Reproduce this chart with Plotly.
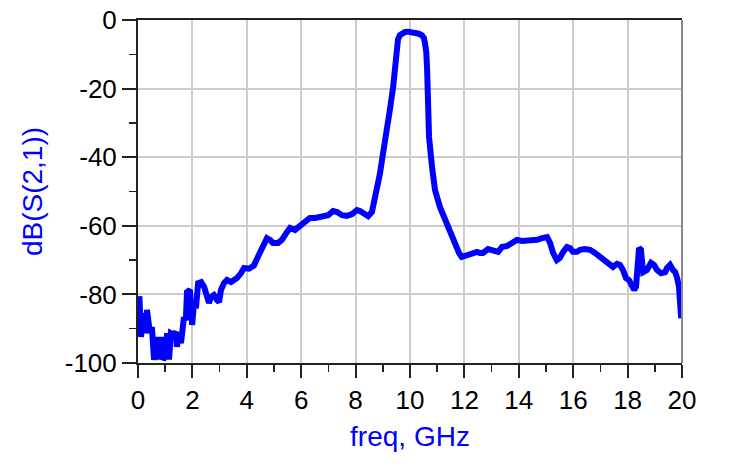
import plotly.graph_objects as go

freq_ghz = [0.05, 0.11, 0.22, 0.29, 0.33, 0.44, 0.51, 0.59, 0.70, 0.77, 0.85, 0.92, 1.03, 1.07, 1.14,
            1.21, 1.32, 1.40, 1.43, 1.51, 1.58, 1.62, 1.69, 1.76, 1.80, 1.91, 1.99, 2.06, 2.13, 2.21,
            2.32, 2.43, 2.54, 2.61, 2.68, 2.79, 2.90, 2.98, 3.05, 3.16, 3.27, 3.42, 3.53, 3.64, 3.79,
            3.90, 4.08, 4.26, 4.41, 4.56, 4.74, 4.85, 4.96, 5.15, 5.29, 5.48, 5.59, 5.77, 5.96, 6.14,
            6.32, 6.51, 6.69, 6.88, 6.99, 7.17, 7.32, 7.50, 7.68, 7.87, 8.05, 8.16, 8.27, 8.46, 8.60,
            8.68, 8.79, 8.90, 9.01, 9.15, 9.26, 9.38, 9.45, 9.50, 9.56, 9.63, 9.71, 9.82, 9.93, 10.05,
            10.18, 10.32, 10.44, 10.51, 10.55, 10.60,
            10.63, 10.66, 10.70, 10.81, 10.92, 11.10, 11.29, 11.47, 11.65, 11.80, 11.90, 12.10, 12.28,
            12.46, 12.57, 12.68, 12.87, 13.05, 13.24, 13.38, 13.57, 13.75, 13.93, 14.12, 14.30, 14.49,
            14.67, 14.85, 15.04, 15.15, 15.26, 15.40, 15.51, 15.63, 15.77, 15.88, 15.99, 16.14, 16.25,
            16.43, 16.62, 16.80, 16.99, 17.17, 17.35, 17.46, 17.61, 17.72, 17.83, 17.94, 18.05, 18.16,
            18.24, 18.31, 18.35, 18.42, 18.49, 18.53, 18.57, 18.71, 18.86, 18.97, 19.08, 19.23, 19.38,
            19.45, 19.56, 19.67, 19.75, 19.82, 19.89, 19.93, 19.97]

s21_db = [-80.5, -92.4, -85.4, -91.3, -84.5, -91.3, -89.5, -99.1, -92.4, -99.0, -92.4, -99.0, -98.0, -91.3, -99.0,
          -91.3, -91.8, -90.9, -95.3, -91.3, -94.2, -91.3, -86.6, -87.5, -79.3, -78.7, -88.9, -82.5, -84.0, -76.7,
          -76.4, -77.8, -80.8, -82.5, -80.8, -80.2, -81.6, -82.2, -78.7, -76.7, -75.8, -76.4, -75.8, -75.2, -73.8,
          -72.3, -72.5, -71.6, -69.0, -66.2, -63.6, -64.1, -65.0, -65.0, -64.1, -61.8, -60.6, -61.2, -59.8, -58.9,
          -57.7, -57.7, -57.4, -57.4, -56.9, -55.7, -56.0, -56.9, -57.1, -56.6, -55.4, -55.7, -56.3, -57.2, -56.0,
          -53.4, -49.8, -44.6, -38.8, -32.9, -26.2, -19.5, -12.5, -8.0, -5.6, -4.4, -3.8, -3.5, -3.4, -3.5,
          -3.7, -4.0, -4.5, -5.2, -6.7, -9.5,
          -14.6, -24.2, -34.1, -42.9, -49.6, -54.5, -58.3, -62.1, -65.0, -67.9, -69.1, -68.5, -67.9,
          -67.6, -67.9, -67.9, -66.8, -67.0, -67.6, -66.2, -65.9, -65.0, -64.1, -64.4, -64.4, -64.4,
          -64.1, -63.6, -63.3, -65.0, -67.9, -70.0, -69.4, -67.6, -66.2, -66.5, -67.6, -67.6, -67.0,
          -66.8, -67.0, -67.9, -69.1, -70.0, -71.4, -72.0, -71.1, -71.4, -72.9, -75.2, -75.8, -77.3,
          -78.7, -77.8, -72.0, -66.5, -67.0, -72.9, -73.5, -72.9, -70.8, -71.4, -72.9, -73.8, -73.5,
          -72.3, -71.4, -72.9, -73.5, -75.2, -77.8, -82.5, -87.0]

x_ticks = [0, 2, 4, 6, 8, 10, 12, 14, 16, 18, 20]
y_ticks = [0, -20, -40, -60, -80, -100]

FONT = "Liberation Sans, Arial, sans-serif"

fig = go.Figure()
fig.add_trace(go.Scatter(
    x=freq_ghz, y=s21_db, mode="lines",
    line=dict(color="#0000ff", width=6),
    showlegend=False, hoverinfo="skip",
))

fig.update_layout(
    width=744, height=469,
    margin=dict(l=138, r=62, t=20, b=106),
    paper_bgcolor="white", plot_bgcolor="white",
    font=dict(family=FONT, size=26, color="black"),
    xaxis=dict(
        range=[0, 20], tickvals=x_ticks, ticktext=[str(v) for v in x_ticks],
        showgrid=True, gridcolor="#cccccc", gridwidth=2,
        showline=True, linecolor="#222222", linewidth=2, mirror=True,
        ticks="outside", ticklen=13, tickwidth=2, tickcolor="#222222",
        minor=dict(dtick=1, tick0=0, ticks="outside", ticklen=7, tickwidth=1.5, tickcolor="#222222", showgrid=False),
        tickfont=dict(size=26, color="black", family=FONT),
        ticklabeloverflow="allow",
        title=dict(text="freq, GHz", font=dict(size=28, color="#0000ff", family=FONT), standoff=12),
        zeroline=False, automargin=False,
    ),
    yaxis=dict(
        range=[-100, 0], tickvals=y_ticks, ticktext=[str(v) for v in y_ticks],
        showgrid=True, gridcolor="#cccccc", gridwidth=2,
        showline=True, linecolor="#222222", linewidth=2,
        ticks="outside", ticklen=14, tickwidth=2, tickcolor="#222222",
        minor=dict(dtick=10, tick0=0, ticks="outside", ticklen=7, tickwidth=1.5, tickcolor="#222222", showgrid=False),
        tickfont=dict(size=26, color="black", family=FONT),
        ticklabeloverflow="allow",
        title=dict(text="dB(S(2,1))", font=dict(size=28, color="#0000ff", family=FONT), standoff=14),
        zeroline=False, automargin=False,
    ),
    shapes=[dict(type="line", xref="paper", yref="paper", x0=1, x1=1, y0=0, y1=1,
                 line=dict(color="#888888", width=2), layer="above")],
)

fig.write_html(
    "out.html",
    config={"displayModeBar": False, "staticPlot": True},
    post_script="document.body.style.margin='0';document.body.style.overflow='hidden';",
)
